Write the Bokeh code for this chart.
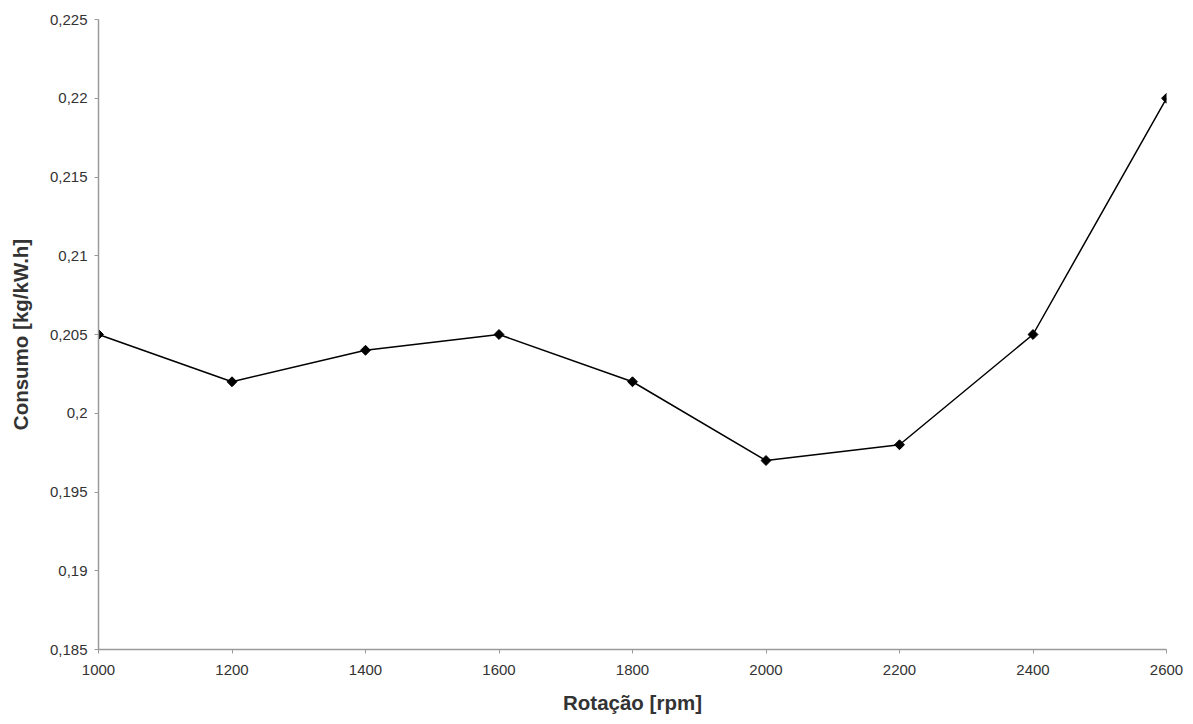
import math
from bokeh.plotting import figure
from bokeh.models import ColumnDataSource, FixedTicker, CustomJSTickFormatter, Range1d
from bokeh.embed import file_html
from bokeh.resources import INLINE

rotacao = [1000, 1200, 1400, 1600, 1800, 2000, 2200, 2400, 2600]
consumo = [0.205, 0.202, 0.204, 0.205, 0.202, 0.197, 0.198, 0.205, 0.220]
x_ticks = [1000, 1200, 1400, 1600, 1800, 2000, 2200, 2400, 2600]
y_ticks = [0.185, 0.19, 0.195, 0.2, 0.205, 0.21, 0.215, 0.22, 0.225]

src = ColumnDataSource(dict(x=rotacao, y=consumo))

p = figure(width=1190, height=720, output_backend="svg", toolbar_location=None,
           x_range=Range1d(1000, 2600), y_range=Range1d(0.185, 0.225),
           min_border_left=98, min_border_right=24, min_border_top=19, min_border_bottom=71)
p.outline_line_color = None
p.xgrid.visible = False
p.ygrid.visible = False

p.line("x", "y", source=src, line_color="black", line_width=1.5)
p.scatter("x", "y", source=src, marker="square", angle=math.pi / 4, size=7,
          fill_color="black", line_color="black")

fmt = CustomJSTickFormatter(code="""
var s = tick.toFixed(3).replace(/0+$/, '').replace(/\\.$/, '');
return s.replace('.', ',');
""")

for ax in (p.xaxis[0], p.yaxis[0]):
    ax.axis_line_color = "#9a9a9a"
    ax.axis_line_width = 1.5
    ax.major_tick_line_color = "#9a9a9a"
    ax.major_tick_out = 4
    ax.major_tick_in = 0
    ax.minor_tick_line_color = None
    ax.major_label_text_font = "Liberation Sans"
    ax.major_label_text_font_size = "15px"
    ax.major_label_text_color = "#333333"
    ax.axis_label_text_font = "Liberation Sans"
    ax.axis_label_text_font_size = "20.5px"
    ax.axis_label_text_font_style = "bold"
    ax.axis_label_text_color = "#333333"

p.xaxis.ticker = FixedTicker(ticks=x_ticks)
p.yaxis.ticker = FixedTicker(ticks=y_ticks)
p.yaxis.formatter = fmt
p.xaxis.axis_label = "Rotação [rpm]"
p.yaxis.axis_label = "Consumo [kg/kW.h]"
p.xaxis.major_label_standoff = 11
p.yaxis.major_label_standoff = 7
p.xaxis.axis_label_standoff = 13
p.yaxis.axis_label_standoff = 15

open("out.html", "w").write(file_html(p, INLINE))
